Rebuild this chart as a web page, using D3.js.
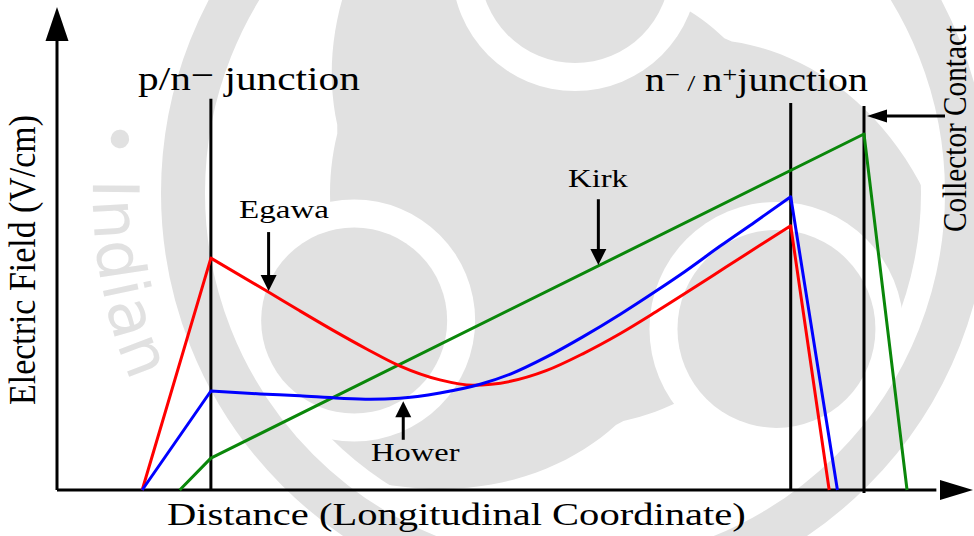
<!DOCTYPE html>
<html>
<head>
<meta charset="utf-8">
<script src="https://cdn.jsdelivr.net/npm/d3@7"></script>
<style>
  html, body { margin: 0; padding: 0; background: #fff; }
  svg { display: block; }
</style>
</head>
<body>
<svg id="chart" width="974" height="536"></svg>
<script>
// Electric field profiles along the collector (arbitrary units)
const egawaX = [9.3, 16.8, 22.9, 26.5, 30.1, 33.8, 37.4, 41.8, 45.4, 49.5, 53.4, 57.4, 61.5, 65.4, 69.4, 73.0, 76.7, 80.1, 84.3];
const egawaY = [0, 48.0, 41.2, 37.1, 33.1, 29.2, 25.7, 22.8, 21.7, 22.5, 24.7, 28.2, 32.4, 36.9, 41.7, 46.1, 50.6, 54.7, 0];

const howerX = [9.3, 16.8, 22.2, 26.5, 30.9, 34.2, 37.4, 41.8, 46.2, 49.5, 53.4, 57.4, 61.5, 65.4, 68.6, 72.4, 76.2, 80.1, 85.2];
const howerY = [0, 20.5, 19.9, 19.5, 19.0, 18.8, 19.0, 20.1, 21.9, 24.0, 27.5, 31.7, 36.4, 41.2, 45.3, 50.5, 55.5, 60.7, 0];

const kirkX = [13.4, 16.8, 88.1, 92.8];
const kirkY = [0, 6.6, 73.7, 0];

// Junction / contact markers
const junctionX = [16.8, 80.1, 88.1];
const junctionTop = [81.0, 80.1, 79.5];
const junctionBottom = [0, 0, -0.6];

// Curve call-outs: label, arrow position along x, arrow tip and tail heights
const calloutLabels = ["Egawa", "Kirk", "Hower"];
const calloutX = [23.1, 59.1, 37.8];
const calloutTip = [41.2, 46.6, 18.4];
const calloutTail = [53.4, 60.2, 10.4];

const W = 974, H = 536;
const svg = d3.select("#chart");

const x = d3.scaleLinear().domain([0, 100]).range([57, 973]);
const y = d3.scaleLinear().domain([0, 100]).range([490, 7]);

const GREY = "#e1e1e1";
const SERIF = "'Liberation Serif', 'Times New Roman', serif";

// ---- faint background emblem (three-swirl seal) ----
const em = { cx: 575, cy: 193, disk: 346, ring: 392, ringW: 44 };
const heads = [
  { a: 270, d: 225, r: 95 },
  { a: 150, d: 255, r: 93 },
  { a: 34,  d: 243, r: 99 }
];
const rad = a => a * Math.PI / 180;
const polar = (r, a) => [em.cx + r * Math.cos(rad(a)), em.cy + r * Math.sin(rad(a))];
const bg = svg.append("g").attr("class", "emblem");
bg.append("circle").attr("cx", em.cx).attr("cy", em.cy).attr("r", em.disk).attr("fill", GREY);
heads.forEach(h => {
  const outer = [], inner = [];
  for (let a = h.a; a <= h.a + 90; a += 2) {
    outer.push(polar(em.disk + 4, a));
    const t = a - h.a;
    const rin = t <= 45 ? h.d - 10 : (h.d - 10) + (t - 45) / 45 * (em.disk + 4 - (h.d - 10));
    inner.push(polar(rin, a));
  }
  bg.append("path").attr("d", d3.line()(outer.concat(inner.reverse())) + "Z").attr("fill", "#fff");
  const c = polar(h.d, h.a);
  bg.append("circle").attr("cx", c[0]).attr("cy", c[1]).attr("r", h.r + 28).attr("fill", "#fff");
});
heads.forEach(h => {
  const c = polar(h.d, h.a);
  bg.append("circle").attr("cx", c[0]).attr("cy", c[1]).attr("r", h.r).attr("fill", GREY);
});
bg.append("circle").attr("cx", em.cx).attr("cy", em.cy).attr("r", em.ring)
  .attr("fill", "none").attr("stroke", GREY).attr("stroke-width", em.ringW);
const arcR = 482;
const p0 = polar(arcR, 189), p1 = polar(arcR, 135);
bg.append("path").attr("id", "emblemArc")
  .attr("d", `M ${p0[0]} ${p0[1]} A ${arcR} ${arcR} 0 0 0 ${p1[0]} ${p1[1]}`).attr("fill", "none");
bg.append("text")
  .attr("font-family", "'DejaVu Sans', sans-serif").attr("font-size", 64).attr("fill", GREY)
  .attr("letter-spacing", 2)
  .append("textPath").attr("href", "#emblemArc").text("• Indian");

// ---- axes with arrowheads ----
const axes = svg.append("g").attr("stroke", "#000").attr("stroke-width", 3).attr("fill", "none");
axes.append("line").attr("x1", x(0)).attr("y1", y(0)).attr("x2", x(0)).attr("y2", y(93));
axes.append("line").attr("x1", x(0)).attr("y1", y(0)).attr("x2", x(96)).attr("y2", y(0));

function arrowHead(g, tipX, tipY, dir, len, half) {
  let pts;
  if (dir === "up") pts = [[tipX, tipY], [tipX - half, tipY + len], [tipX + half, tipY + len]];
  else if (dir === "down") pts = [[tipX, tipY], [tipX - half, tipY - len], [tipX + half, tipY - len]];
  else if (dir === "left") pts = [[tipX, tipY], [tipX + len, tipY - half], [tipX + len, tipY + half]];
  else pts = [[tipX, tipY], [tipX - len, tipY - half], [tipX - len, tipY + half]];
  g.append("path").attr("d", d3.line()(pts) + "Z").attr("fill", "#000").attr("stroke", "none");
}
arrowHead(svg, x(0), y(100), "up", 34, 11.5);
arrowHead(svg, x(100), y(0), "right", 33, 10);

// ---- junction markers ----
svg.append("g").selectAll("line").data(junctionX).join("line")
  .attr("x1", d => x(d)).attr("x2", d => x(d))
  .attr("y1", (d, i) => y(junctionBottom[i]))
  .attr("y2", (d, i) => y(junctionTop[i]))
  .attr("stroke", "#000").attr("stroke-width", 3);

// ---- field profiles: straight rise, smooth body, straight fall ----
function profilePath(xs, ys) {
  const pts = xs.map((v, i) => [x(v), y(ys[i])]);
  const n = pts.length;
  const straight = d3.line();
  const smooth = d3.line().curve(d3.curveMonotoneX);
  let d = straight(pts.slice(0, 2));
  d += smooth(pts.slice(1, n - 1)).replace(/^M[^CL]*/, "");
  d += "L" + pts[n - 1].join(",");
  return d;
}
const series = [
  { xs: kirkX, ys: kirkY, color: "#0a870a" },
  { xs: egawaX, ys: egawaY, color: "#ff0000" },
  { xs: howerX, ys: howerY, color: "#0000ff" }
];
svg.append("g").selectAll("path").data(series).join("path")
  .attr("d", s => profilePath(s.xs, s.ys))
  .attr("fill", "none").attr("stroke", s => s.color)
  .attr("stroke-width", 3).attr("stroke-linejoin", "round");

// ---- call-out arrows ----
const callouts = svg.append("g");
calloutLabels.forEach((lab, i) => {
  const cx = x(calloutX[i]);
  const tip = y(calloutTip[i]);
  const tail = y(calloutTail[i]);
  const down = tail < tip;
  const headLen = 16;
  callouts.append("line")
    .attr("x1", cx).attr("x2", cx)
    .attr("y1", tail).attr("y2", down ? tip - headLen + 2 : tip + headLen - 2)
    .attr("stroke", "#000").attr("stroke-width", 3);
  arrowHead(callouts, cx, tip, down ? "down" : "up", headLen, 8);
});

// collector contact pointer
svg.append("line").attr("x1", 945).attr("x2", 884).attr("y1", 116).attr("y2", 116)
  .attr("stroke", "#000").attr("stroke-width", 3);
arrowHead(svg, x(88.1) + 3, 116, "left", 20, 6.5);

// ---- text ----
// Horizontal label spanning [x0, x1] on the given baseline.
function fitLabel(build, x0, x1, baseline, size) {
  const g = svg.append("g");
  const t = g.append("text").attr("font-family", SERIF).attr("font-size", size).attr("fill", "#000");
  build(t);
  const bb = t.node().getBBox();
  const s = (x1 - x0) / bb.width;
  g.attr("transform", `translate(${x0 - bb.x * s},${baseline}) scale(${s},1)`);
  return g;
}
// Vertical (bottom-to-top) label spanning [yTop, yBottom] with its baseline at bx.
function fitVertical(str, bx, yBottom, yTop, size, stretch) {
  const g = svg.append("g").attr("transform", `translate(${bx},${yBottom}) scale(${stretch},1) rotate(-90)`);
  g.append("text").attr("font-family", SERIF).attr("font-size", size).attr("fill", "#000")
    .attr("textLength", yBottom - yTop).attr("lengthAdjust", "spacingAndGlyphs")
    .text(str);
}

fitLabel(t => {
  t.append("tspan").text("p/n");
  t.append("tspan").attr("dy", -4).text("−");
  t.append("tspan").attr("dy", 4).text(" junction");
}, 138, 360, 90, 33);

fitLabel(t => {
  t.append("tspan").text("n");
  t.append("tspan").attr("dy", -9).attr("font-size", 22).text("−");
  t.append("tspan").attr("dy", 9).attr("font-size", 24).text(" / ");
  t.append("tspan").text("n");
  t.append("tspan").attr("dy", -9).attr("font-size", 22).text("+");
  t.append("tspan").attr("dy", 9).text("junction");
}, 645, 868, 91, 33);

fitLabel(t => t.text(calloutLabels[0]), 239, 329, 218, 25);
fitLabel(t => t.text(calloutLabels[1]), 568, 628, 187, 26);
fitLabel(t => t.text(calloutLabels[2]), 371, 460, 461, 26);

fitLabel(t => t.text("Distance (Longitudinal Coordinate)"), 167, 746, 525, 32);

fitVertical("Electric Field (V/cm)", 35, 405, 115, 34, 1.12);
fitVertical("Collector Contact", 966, 232, 25, 28.5, 1.16);
</script>
</body>
</html>
